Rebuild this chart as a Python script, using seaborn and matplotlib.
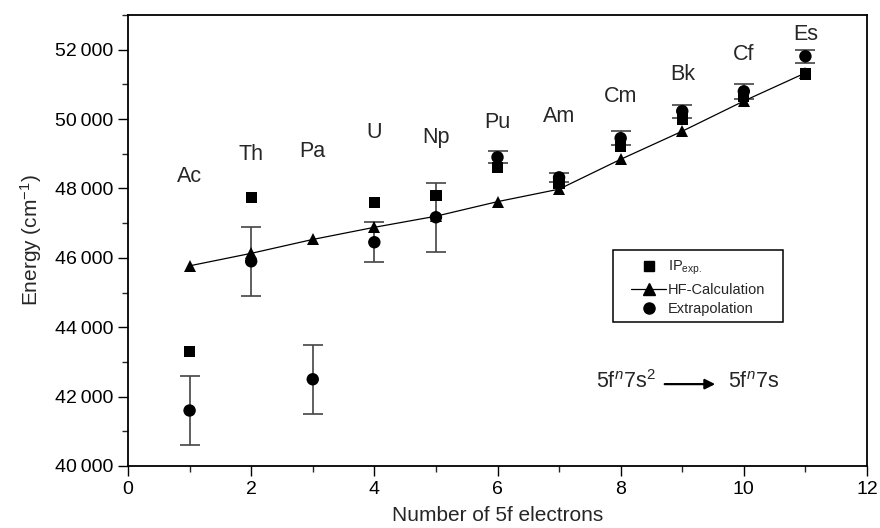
import numpy as np
import pandas as pd
import matplotlib
matplotlib.use("Agg")
import matplotlib.pyplot as plt
import seaborn as sns
from matplotlib.lines import Line2D
from matplotlib.patches import Rectangle
from matplotlib.ticker import MultipleLocator, FuncFormatter

# ---- data ----
elements = ["Ac", "Th", "Pa", "U", "Np", "Pu", "Am", "Cm", "Bk", "Cf", "Es"]
n5f = [1, 2, 3, 4, 5, 6, 7, 8, 9, 10, 11]
label_y = [48350, 48990, 49070, 49620, 49470, 49900, 50080, 50650, 51280, 51860, 52430]

ip_x = [1, 2, 4, 5, 6, 7, 8, 9, 10, 11]
ip_exp = [43300, 47750, 47600, 47800, 48600, 48150, 49200, 50000, 50650, 51300]

hf_x = [1, 2, 3, 4, 5, 6, 7, 8, 9, 10, 11]
hf_calc = [45770, 46130, 46530, 46880, 47200, 47620, 47980, 48840, 49650, 50520, 51330]

ex_x = [1, 2, 3, 4, 5, 6, 7, 8, 9, 10, 11]
ex_val = [41600, 45900, 42500, 46450, 47170, 48900, 48320, 49450, 50230, 50800, 51810]
ex_err = [1000, 1000, 1000, 580, 1000, 180, 120, 200, 190, 220, 190]

# ---- style ----
sns.set_style("ticks")
plt.rcParams["font.family"] = ["Liberation Sans", "DejaVu Sans"]
plt.rcParams["mathtext.fontset"] = "custom"
plt.rcParams["mathtext.rm"] = "Liberation Sans"
plt.rcParams["mathtext.it"] = "Liberation Sans:italic"

W, H = 880, 528
fig = plt.figure(figsize=(8.8, 5.28), dpi=100)
L, R, T, B = 128, 867, 15, 466
ax = fig.add_axes([L / W, 1 - B / H, (R - L) / W, (B - T) / H])

df_ip = pd.DataFrame({"n": ip_x, "E": ip_exp})
df_hf = pd.DataFrame({"n": hf_x, "E": hf_calc})
df_ex = pd.DataFrame({"n": ex_x, "E": ex_val, "err": ex_err})

ax.errorbar(df_ex["n"], df_ex["E"], yerr=df_ex["err"], fmt="none",
            ecolor="#444444", elinewidth=1.2, capsize=7, capthick=1.2, zorder=2)
sns.lineplot(data=df_hf, x="n", y="E", ax=ax, color="black", lw=0.9,
             marker="^", markersize=9, markeredgewidth=0, zorder=3)
sns.scatterplot(data=df_ip, x="n", y="E", ax=ax, marker="s", s=65,
                color="black", edgecolor="none", zorder=4)
sns.scatterplot(data=df_ex, x="n", y="E", ax=ax, marker="o", s=80,
                color="black", edgecolor="none", zorder=5)

for x, y, t in zip(n5f, label_y, elements):
    ax.text(x, y, t, ha="center", va="center", fontsize=15.5)

ax.set_xlim(0, 12)
ax.set_ylim(40000, 53000)
ax.xaxis.set_major_locator(MultipleLocator(2))
ax.xaxis.set_minor_locator(MultipleLocator(1))
ax.yaxis.set_major_locator(MultipleLocator(2000))
ax.yaxis.set_minor_locator(MultipleLocator(1000))
ax.yaxis.set_major_formatter(FuncFormatter(
    lambda v, p: f"{int(v) // 1000}\u2009{int(v) % 1000:03d}"))
ax.tick_params(which="major", direction="out", length=7, width=1, labelsize=14, colors="black")
ax.tick_params(which="minor", direction="out", length=4, width=1)
for s in ax.spines.values():
    s.set_visible(True)
    s.set_linewidth(1.3)
    s.set_color("black")

ax.set_xlabel("Number of 5f electrons", fontsize=15, labelpad=6)
ax.set_ylabel("Energy (cm$^{-1}$)", fontsize=15, labelpad=8)

# legend (frame drawn separately to match padding)
def to_axes(px, py):
    return (px - L) / (R - L), (B - py) / (B - T)

x0, y0 = to_axes(613, 322)
x1, y1 = to_axes(783, 250)
ax.add_patch(Rectangle((x0, y0), x1 - x0, y1 - y0, transform=ax.transAxes,
                       fill=True, facecolor="white", edgecolor="black", lw=1.1, zorder=6))

handles = [
    Line2D([], [], ls="none", marker="s", color="black", markersize=7),
    Line2D([], [], ls="-", lw=0.9, marker="^", color="black", markersize=8),
    Line2D([], [], ls="none", marker="o", color="black", markersize=8),
]
labels = ["IP$_{\\mathrm{exp.}}$", "HF-Calculation", "Extrapolation"]
lx, ly = to_axes(631, 259)
leg = ax.legend(handles, labels, loc="upper left", bbox_to_anchor=(lx, ly),
                frameon=False, fontsize=10.5, handlelength=2.4,
                borderpad=0, labelspacing=0.38, handletextpad=0.15, borderaxespad=0)
leg.set_zorder(7)

ya = 42420
ax.text(8.08, ya, "5f$^{n}$7s$^{2}$", ha="center", va="center", fontsize=15.5)
ax.text(10.16, ya, "5f$^{n}$7s", ha="center", va="center", fontsize=15.5)
ax.annotate("", xy=(9.58, ya - 60), xytext=(8.67, ya - 60),
            arrowprops=dict(arrowstyle="-|>", color="black", lw=1.6, mutation_scale=15))

fig.savefig("out.png", dpi=100)
